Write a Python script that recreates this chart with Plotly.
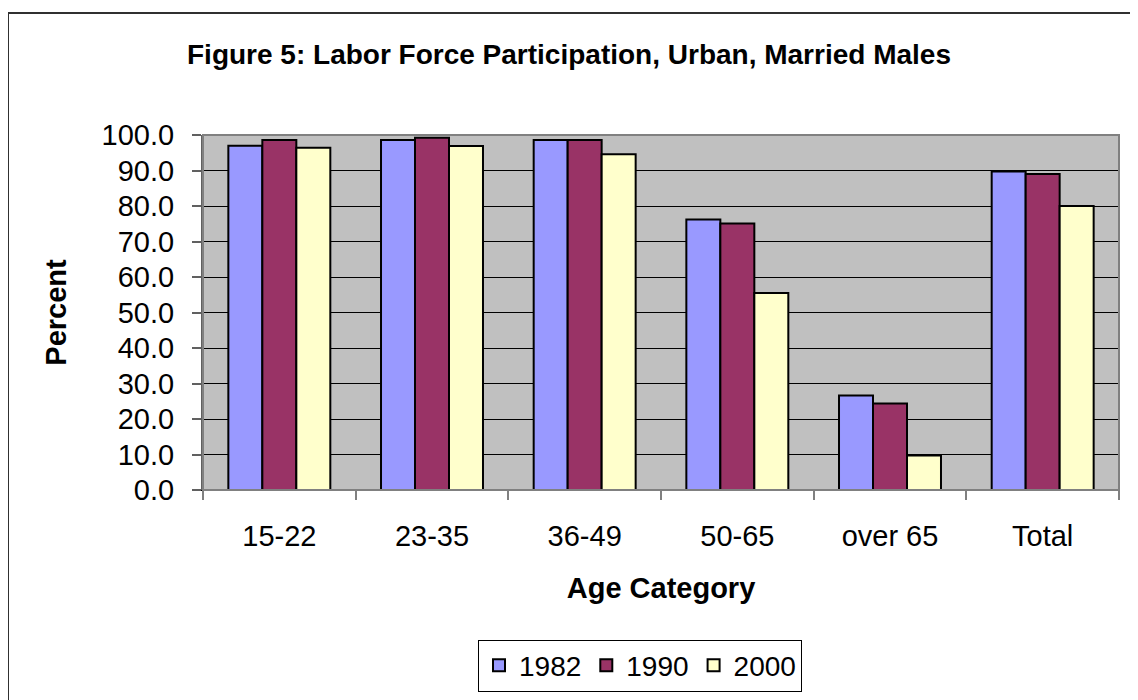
import plotly.graph_objects as go

categories = ["15-22", "23-35", "36-49", "50-65", "over 65", "Total"]
years = ["1982", "1990", "2000"]
v1982 = [97.0, 98.6, 98.6, 76.2, 26.6, 89.7]
v1990 = [98.6, 99.2, 98.6, 75.1, 24.4, 89.0]
v2000 = [96.4, 96.9, 94.6, 55.5, 9.7, 80.0]
colors = ["#9999FF", "#993366", "#FFFFCC"]

FONT = "Liberation Sans, Arial, sans-serif"
L, R, T, B = 195, 27, 127, 218
PW = 1138 - L - R
PH = 700 - T - B

fig = go.Figure()
for name, vals, c in zip(years, [v1982, v1990, v2000], colors):
    fig.add_trace(go.Bar(
        x=categories, y=vals, name=name,
        marker=dict(color=c, line=dict(color="black", width=2)),
    ))

fig.update_layout(
    width=1138, height=700,
    paper_bgcolor="white", plot_bgcolor="#C0C0C0",
    margin=dict(l=L, r=R, t=T, b=B),
    barmode="group", bargap=0.332, bargroupgap=0,
    font=dict(family=FONT, color="black", size=29),
    title=dict(text="<b>Figure 5: Labor Force Participation, Urban, Married Males</b>",
               x=561 / 1138, xanchor="center", y=1 - 46 / 700, yanchor="middle",
               font=dict(size=28, family=FONT)),
    showlegend=True,
    legend=dict(orientation="h", x=(632 - L) / PW, xanchor="center",
                y=1 - (657.5 - T) / PH, yanchor="middle",
                bordercolor="black", borderwidth=1, bgcolor="white",
                font=dict(size=28, family=FONT), itemwidth=30,
                traceorder="normal"),
    shapes=[
        dict(type="rect", xref="paper", yref="paper", x0=0, x1=1, y0=0, y1=1,
             line=dict(color="#808080", width=2), fillcolor="rgba(0,0,0,0)", layer="above"),
        dict(type="rect", xref="paper", yref="paper", x0=-L / PW, x1=(1145 - L) / PW,
             y0=1 - (710 - T) / PH, y1=1 + (T - 5) / PH,
             line=dict(color="#303030", width=2), fillcolor="rgba(0,0,0,0)"),
    ],
)

fig.update_xaxes(
    type="category", showgrid=False, showline=True, linecolor="black", linewidth=1,
    ticks="outside", tickson="boundaries", ticklen=9, tickcolor="#808080", tickwidth=2,
    ticklabelstandoff=20,
    tickfont=dict(size=29, family=FONT),
    title=dict(text="<b>Age Category</b>", font=dict(size=29, family=FONT), standoff=26),
)
fig.update_yaxes(
    range=[0, 100], dtick=10, tickformat=".1f",
    showgrid=True, gridcolor="black", gridwidth=1,
    showline=True, linecolor="#606060", linewidth=2,
    ticks="outside", ticklen=9, tickcolor="#606060", tickwidth=2,
    ticklabelstandoff=12,
    tickfont=dict(size=29, family=FONT),
    title=dict(text="<b>Percent</b>", font=dict(size=29, family=FONT), standoff=26),
    zeroline=False,
)

fig.write_html("out.html")
